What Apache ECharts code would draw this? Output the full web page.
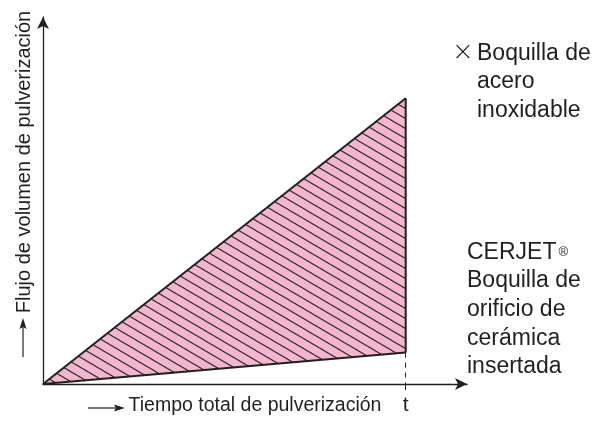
<!DOCTYPE html>
<html>
<head>
<meta charset="utf-8">
<script src="https://cdn.jsdelivr.net/npm/echarts@6/dist/echarts.min.js"></script>
<style>
  html, body { margin: 0; padding: 0; background: #fff; }
  #main { width: 614px; height: 421px; }
</style>
</head>
<body>
<div id="main"></div>
<script>
// 时间轴：0 到 t（t = 1）
var timeVals = [0, 1];
// 不锈钢喷嘴的流量（上边）
var steelFlow = [0, 10];
// CERJET 陶瓷喷嘴的流量（下边）
var ceramicFlow = [0, 1.1];
var tickLabels = ['t'];

var ink = '#231f20';
var font = '"Liberation Sans", Arial, sans-serif';

// 斜线填充图案
function hatch() {
    var w = 17, h = 10;
    var c = document.createElement('canvas');
    c.width = w;
    c.height = h;
    var ctx = c.getContext('2d');
    ctx.fillStyle = '#f4b6ce';
    ctx.fillRect(0, 0, w, h);
    ctx.strokeStyle = '#2b2b2b';
    ctx.lineWidth = 1.1;
    for (var k = -1; k <= 1; k++) {
        ctx.beginPath();
        ctx.moveTo(-w, -h + k * h);
        ctx.lineTo(2 * w, 2 * h + k * h);
        ctx.stroke();
    }
    return c;
}
var hatchFill = { image: hatch(), repeat: 'repeat' };

var myChart = echarts.init(document.getElementById('main'));

var last = timeVals.length - 1;
var steelData = timeVals.map(function (t, i) { return [t, steelFlow[i]]; });
var ceramicData = timeVals.map(function (t, i) { return [t, ceramicFlow[i]]; });

var option = {
    animation: false,
    grid: { left: 43, right: 147, top: 17, bottom: 37, outerBoundsMode: 'none' },
    xAxis: {
        type: 'value',
        min: 0,
        max: 1.169,
        splitLine: { show: false },
        axisLine: {
            symbol: ['none', 'arrow'],
            symbolSize: [9, 12],
            lineStyle: { color: ink, width: 1.3 }
        },
        axisTick: {
            show: true,
            customValues: [timeVals[last]],
            length: 6,
            lineStyle: { color: ink, width: 1 }
        },
        axisLabel: {
            customValues: [timeVals[last]],
            formatter: function () { return tickLabels[0]; },
            fontSize: 21,
            fontFamily: font,
            color: ink,
            margin: 11
        },
        name: 'Tiempo total de pulverización',
        nameLocation: 'middle',
        nameGap: 12,
        nameMoveOverlap: false,
        nameTextStyle: { fontSize: 19.5, fontFamily: font, color: ink }
    },
    yAxis: {
        type: 'value',
        min: 0,
        max: 12.84,
        splitLine: { show: false },
        axisTick: { show: false },
        axisLabel: { show: false },
        axisLine: {
            symbol: ['none', 'arrow'],
            symbolSize: [9, 12],
            lineStyle: { color: ink, width: 1.3 }
        }
    },
    series: [
        {
            // 两条线之间的斜线区域
            name: 'area',
            type: 'custom',
            silent: true,
            z: 2,
            data: [0],
            renderItem: function (params, api) {
                var pts = [];
                timeVals.forEach(function (t, i) { pts.push(api.coord([t, steelFlow[i]])); });
                for (var i = timeVals.length - 1; i >= 0; i--) {
                    pts.push(api.coord([timeVals[i], ceramicFlow[i]]));
                }
                return { type: 'polygon', shape: { points: pts }, style: { fill: hatchFill } };
            }
        },
        {
            name: 'Acero inoxidable',
            type: 'line',
            data: steelData,
            symbol: 'none',
            z: 4,
            lineStyle: { color: ink, width: 2 }
        },
        {
            name: 'CERJET',
            type: 'line',
            data: ceramicData,
            symbol: 'none',
            z: 4,
            lineStyle: { color: ink, width: 2 },
            markLine: {
                silent: true,
                symbol: 'none',
                label: { show: false },
                lineStyle: { color: ink, width: 1, type: [5, 5] },
                data: [[{ coord: [timeVals[last], ceramicFlow[last]] }, { coord: [timeVals[last], 0] }]]
            }
        },
        {
            name: 'borde',
            type: 'line',
            data: [[timeVals[last], ceramicFlow[last]], [timeVals[last], steelFlow[last]]],
            symbol: 'none',
            z: 4,
            lineStyle: { color: ink, width: 2 }
        }
    ],
    graphic: [
        {
            type: 'text',
            x: 24,
            y: 162,
            rotation: Math.PI / 2,
            style: {
                text: 'Flujo de volumen de pulverización',
                fontSize: 20,
                fontFamily: font,
                fill: ink,
                align: 'center',
                verticalAlign: 'middle'
            }
        },
        { type: 'line', shape: { x1: 23, y1: 357, x2: 23, y2: 327 }, style: { stroke: ink, lineWidth: 1.2 } },
        { type: 'polygon', shape: { points: [[23, 318], [19.5, 329], [23, 327], [26.5, 329]] }, style: { fill: ink } },
        { type: 'line', shape: { x1: 88, y1: 408, x2: 116, y2: 408 }, style: { stroke: ink, lineWidth: 1.2 } },
        { type: 'polygon', shape: { points: [[125, 408], [114, 404.5], [116, 408], [114, 411.5]] }, style: { fill: ink } },
        {
            type: 'text',
            x: 463,
            y: 53,
            style: { text: '×', fontSize: 26, fontFamily: '"DejaVu Sans", sans-serif', fontWeight: 200, fill: ink, align: 'center', verticalAlign: 'middle' }
        },
        {
            type: 'text',
            x: 477,
            y: 39,
            style: {
                text: 'Boquilla de\nacero\ninoxidable',
                fontSize: 23,
                lineHeight: 28.5,
                fontFamily: font,
                fill: ink,
                verticalAlign: 'top'
            }
        },
        {
            type: 'text',
            x: 467,
            y: 238,
            style: {
                text: '{b|CERJET}{r|®}\nBoquilla de\norificio de\ncerámica\ninsertada',
                fontSize: 23,
                lineHeight: 28.7,
                fontFamily: font,
                fill: ink,
                verticalAlign: 'top',
                rich: {
                    b: { fontSize: 23, fontFamily: font, fill: ink, lineHeight: 28.7 },
                    r: { fontSize: 13, fontFamily: font, fill: ink, padding: [0, 0, 0, 2] }
                }
            }
        }
    ]
};

myChart.setOption(option);
</script>
</body>
</html>
